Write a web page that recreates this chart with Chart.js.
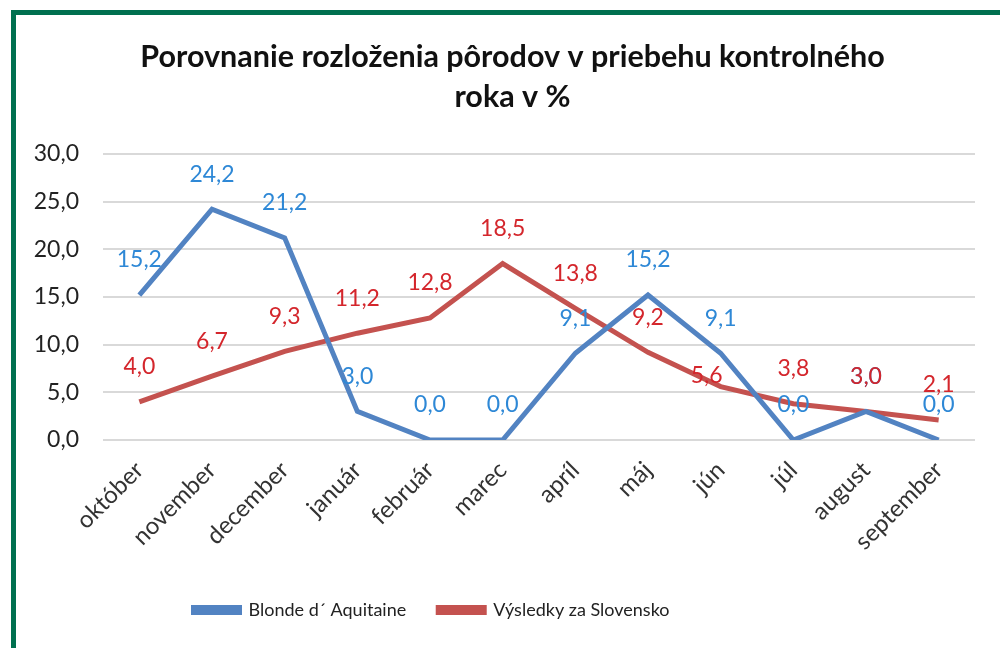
<!DOCTYPE html>
<html>
<head>
<meta charset="utf-8">
<script src="https://cdn.jsdelivr.net/npm/chart.js@4.4.0/dist/chart.umd.min.js"></script>
<style>
  body { margin: 0; background: #fff; }
  #frame {
    position: absolute; left: 11px; top: 10px;
    width: 989px; height: 638px;
    border-left: 5px solid #00704f; border-top: 5px solid #00704f;
    box-sizing: border-box;
  }
  canvas { display: block; }
</style>
</head>
<body>
<div id="frame"><canvas id="chart" width="984" height="633"></canvas></div>
<script>
'use strict'

const months = ['október', 'november', 'december', 'január', 'február', 'marec',
    'apríl', 'máj', 'jún', 'júl', 'august', 'september'];
const blondeValues = [15.2, 24.2, 21.2, 3.0, 0.0, 0.0, 9.1, 15.2, 9.1, 0.0, 3.0, 0.0];
const slovakiaValues = [4.0, 6.7, 9.3, 11.2, 12.8, 18.5, 13.8, 9.2, 5.6, 3.8, 3.0, 2.1];
const yTicks = [0, 5, 10, 15, 20, 25, 30];

const font = 'Lato';

// data labels, Excel style, above each point
const valueLabels = {
    id: 'valueLabels',
    afterDatasetsDraw(chart) {
        const ctx = chart.ctx;
        ctx.save();
        ctx.font = '23px ' + font;
        ctx.textAlign = 'center';
        ctx.textBaseline = 'middle';
        chart.data.datasets.forEach((ds, i) => {
            const meta = chart.getDatasetMeta(i);
            ctx.fillStyle = ds.labelColor;
            meta.data.forEach((pt, j) => {
                let dx = 0, dy = -35;
                // the 5,6 label was moved in the original
                if (i === 1 && j === 8) { dx = -14; dy = -11; }
                ctx.fillText(ds.data[j].toFixed(1).replace('.', ','), pt.x + dx, pt.y + dy);
            });
        });
        ctx.restore();
    }
};

// excel didn't centre title and legend on the same line as chart.js
const boxShift = {
    id: 'boxShift',
    afterLayout(chart) {
        chart.titleBlock.left += 17;
        chart.titleBlock.right += 17;
        chart.legend.left -= 64;
        chart.legend.right -= 64;
    }
};

new Chart(document.getElementById('chart'), {
    type: 'line',
    data: {
        labels: months,
        datasets: [
            {
                label: 'Blonde d\u00b4 Aquitaine',
                data: blondeValues,
                borderColor: '#5283c2',
                backgroundColor: '#5283c2',
                labelColor: '#2e88d6',
                borderWidth: 5,
                pointRadius: 0,
                tension: 0
            },
            {
                label: 'Výsledky za Slovensko',
                data: slovakiaValues,
                borderColor: '#c4524f',
                backgroundColor: '#c4524f',
                labelColor: '#d4262c',
                borderWidth: 5,
                pointRadius: 0,
                tension: 0
            }
        ]
    },
    options: {
        responsive: false,
        animation: false,
        layout: { padding: { left: 0, right: 25, top: 0, bottom: 19 } },
        plugins: {
            title: {
                display: true,
                text: ['Porovnanie rozloženia pôrodov v priebehu kontrolného', 'roka v %'],
                color: '#111',
                font: { family: font, size: 30.5, weight: 'bold', lineHeight: 1.31 },
                padding: { top: 22, bottom: 37 }
            },
            legend: {
                position: 'bottom',
                labels: {
                    color: '#222',
                    font: { family: font, size: 18 },
                    boxWidth: 46,
                    boxHeight: 5,
                    padding: 32
                }
            },
            tooltip: { enabled: false }
        },
        scales: {
            x: {
                offset: true,
                grid: { display: false },
                border: { display: false },
                ticks: {
                    color: '#333',
                    font: { family: font, size: 24 },
                    maxRotation: 45,
                    minRotation: 45,
                    padding: 8
                },
                afterFit(scale) { scale.height = 129; }
            },
            y: {
                min: 0,
                max: 30,
                afterBuildTicks(scale) { scale.ticks = yTicks.map(v => ({ value: v })); },
                grid: { color: '#d9d9d9', lineWidth: 2, drawTicks: false },
                border: { display: false },
                ticks: {
                    color: '#222',
                    font: { family: font, size: 23 },
                    padding: 24,
                    callback: v => v.toFixed(1).replace('.', ',')
                },
                afterFit(scale) { scale.width = 87; }
            }
        }
    },
    plugins: [valueLabels, boxShift]
});
</script>
</body>
</html>
